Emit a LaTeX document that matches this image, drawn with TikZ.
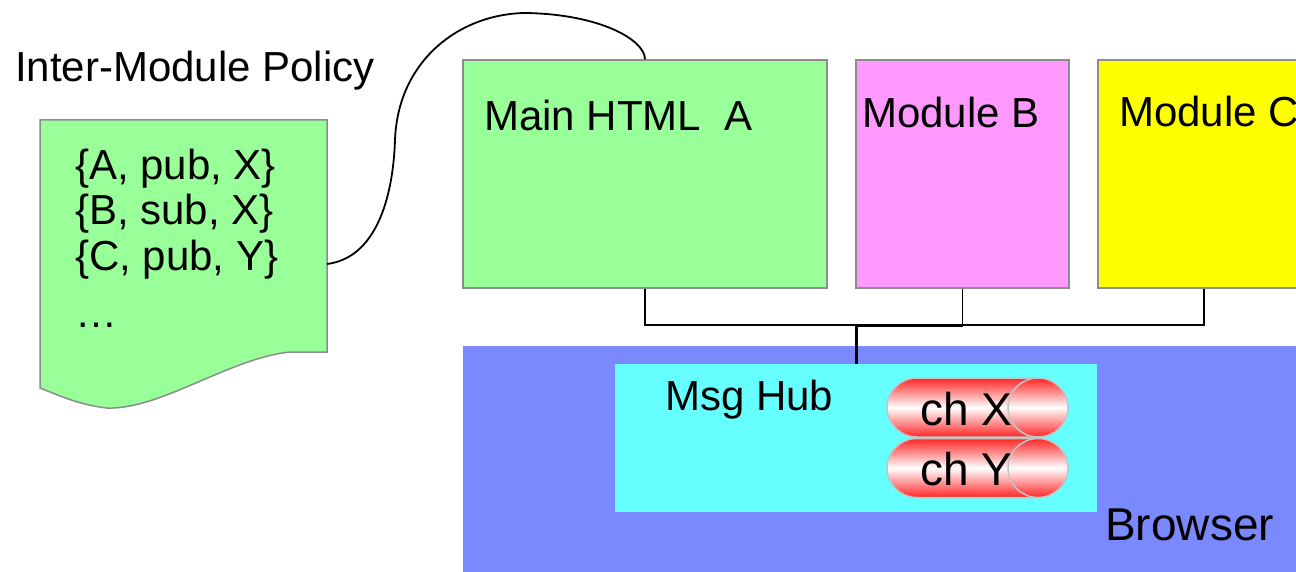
\documentclass[tikz,border=0pt]{standalone}
\usepackage{fontspec}
\setmainfont{Liberation Sans}
\usetikzlibrary{calc}

\definecolor{mintgreen}{HTML}{99FF99}
\definecolor{pinkmod}{HTML}{FF99FF}
\definecolor{yellowmod}{HTML}{FFFF00}
\definecolor{browserblue}{HTML}{7B89FF}
\definecolor{hubcyan}{HTML}{66FFFF}
\definecolor{chred}{HTML}{FF2626}
\definecolor{edgegray}{HTML}{8C8C8C}
\definecolor{pipegray}{HTML}{C4C4C4}

\tikzset{
  box/.style={draw=edgegray, line width=1.5pt, inner sep=0pt},
  plainbox/.style={inner sep=0pt, draw=none},
  label/.style={inner sep=0pt, anchor=base west, font=\fontsize{42}{48}\selectfont},
  biglabel/.style={inner sep=0pt, anchor=base west, font=\fontsize{46}{52}\selectfont},
  wire/.style={draw=black, line width=1.5pt},
  trunk/.style={draw=black, line width=3pt},
  pipe/.style={draw=pipegray, line width=1.5pt,
    top color=chred, bottom color=chred, middle color=white},
}

\begin{document}
\begin{tikzpicture}[x=1pt, y=-1pt]
  \clip (0,0) rectangle (1296,572);
  \fill[white] (0,0) rectangle (1296,572);

  % policy document
  \filldraw[fill=mintgreen, draw=edgegray, line width=1.5pt]
    (40,120) -- (327,120) -- (327,352) -- (290,352)
    .. controls (230,358) and (160,410) .. (107,408)
    .. controls (80,405) and (60,396) .. (40,388) -- cycle;
  \coordinate (docport) at (327,264);
  \node[label] (policy) at (15,82) {Inter-Module Policy};
  \node[label] (rule1) at (75,180) {\{A, pub, X\}};
  \node[label] (rule2) at (75,225) {\{B, sub, X\}};
  \node[label] (rule3) at (75,270) {\{C, pub, Y\}};
  \node[label] (rule4) at (75,327) {\ldots};

  % browser and message hub
  \node[plainbox, fill=browserblue, minimum width=860pt, minimum height=260pt,
        anchor=north west] (browser) at (463,346) {};
  \node[plainbox, fill=hubcyan, minimum width=482pt, minimum height=148pt]
        (hub) at (856,438) {};
  \node[biglabel] (browsertxt) at (1105,540) {Browser};
  \node[label] (hubtxt) at (665,410) {Msg Hub};

  % modules
  \node[box, fill=mintgreen, minimum width=364pt, minimum height=228pt]
        (main) at (645,174) {};
  \node[box, fill=pinkmod, minimum width=213pt, minimum height=228pt]
        (modb) at (962.5,174) {};
  \node[box, fill=yellowmod, minimum width=212pt, minimum height=228pt]
        (modc) at (1204,174) {};
  \node[label] (maintxt) at (484,131) {Main HTML\ \ A};
  \node[label] (modbtxt) at (862,128) {Module B};
  \node[label] (modctxt) at (1119,127) {Module C};

  % channels
  \foreach \cy/\nm in {407.5/X, 468/Y} {
    \path[pipe] (1038,\cy-29.5) -- (917,\cy-29.5)
      arc[start angle=-90, end angle=-270, x radius=30, y radius=29.5]
      -- (1038,\cy+29.5) -- cycle;
    \path[pipe] (1038,\cy) ellipse [x radius=30, y radius=29.5];
    \node[biglabel] (ch\nm) at (920,\cy+17.5) {ch \nm};
  }

  % module bus to the hub
  \coordinate (bus) at (856,325);
  \draw[wire] (main.south) |- (bus);
  \draw[wire] (modc.south) |- (modb.south |- bus);
  \draw[wire] (modb.south) -- (modb.south |- bus);
  \draw[trunk] (modb.south |- bus) -- (bus) -- (hub.north);

  % policy applied to the main page
  \draw[line width=1.8pt] (docport)
    .. controls (375,258) and (393,200) .. (395,140)
    .. controls (398,60) and (460,14) .. (525,13)
    .. controls (600,14) and (645,40) .. (main.north);
\end{tikzpicture}
\end{document}
